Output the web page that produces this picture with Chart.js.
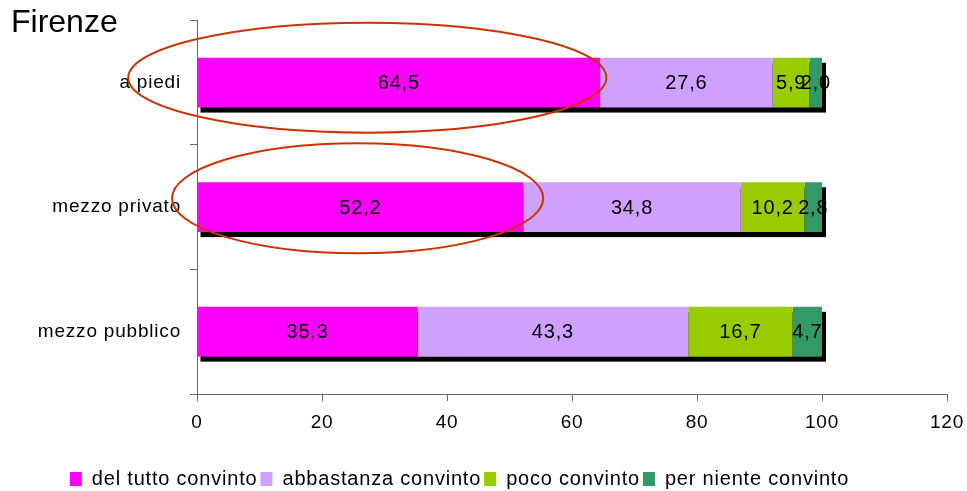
<!DOCTYPE html>
<html>
<head>
<meta charset="utf-8">
<script src="https://cdn.jsdelivr.net/npm/chart.js@4"></script>
<style>
  html, body { margin: 0; padding: 0; background: #fff; }
  #wrap { width: 967px; height: 491px; position: relative; }
</style>
</head>
<body>
<div id="wrap"><canvas id="chart"></canvas></div>
<script>
const categories = ['a piedi', 'mezzo privato', 'mezzo pubblico'];
const seriesNames = ['del tutto convinto', 'abbastanza convinto', 'poco convinto', 'per niente convinto'];
const delTutto = [64.5, 52.2, 35.3];
const abbastanza = [27.6, 34.8, 43.3];
const poco = [5.9, 10.2, 16.7];
const perNiente = [2.0, 2.8, 4.7];
const xTicks = [0, 20, 40, 60, 80, 100, 120];
const colors = ['#ff00ff', '#d0a0ff', '#99cc00', '#339966'];

const FONT = '"Liberation Sans", Arial, sans-serif';

// testo un po' spaziato come nell'originale
const spacingPlugin = {
  id: 'spacing',
  beforeUpdate(chart) { chart.ctx.letterSpacing = '0.8px'; },
  beforeDraw(chart) { chart.ctx.letterSpacing = '0.8px'; },
  // legenda spostata un po' a sinistra
  afterLayout(chart) { chart.legend.right -= 48; }
};

// ombra nera sotto le barre
const shadowPlugin = {
  id: 'shadow',
  beforeDatasetsDraw(chart) {
    const ctx = chart.ctx;
    const first = chart.getDatasetMeta(0).data;
    const last = chart.getDatasetMeta(chart.data.datasets.length - 1).data;
    ctx.save();
    ctx.fillStyle = '#000';
    first.forEach((bar, i) => {
      const end = last[i];
      const h = bar.height;
      ctx.fillRect(bar.base + 3, bar.y - h / 2 + 5, end.x - bar.base + 1, h);
    });
    ctx.restore();
  }
};

// etichette dei valori
const labelPlugin = {
  id: 'valueLabels',
  afterDatasetsDraw(chart) {
    const ctx = chart.ctx;
    ctx.save();
    ctx.font = '20px ' + FONT;
    ctx.fillStyle = '#000';
    ctx.textAlign = 'center';
    ctx.textBaseline = 'middle';
    chart.data.datasets.forEach((ds, d) => {
      chart.getDatasetMeta(d).data.forEach((bar, i) => {
        const cx = (bar.base + bar.x) / 2;
        ctx.fillText(ds.data[i].toFixed(1).replace('.', ','), cx, bar.y + 1);
      });
    });
    ctx.restore();
  }
};

// titolo ed ellissi
const overlayPlugin = {
  id: 'overlay',
  afterDraw(chart) {
    const ctx = chart.ctx;
    const x = chart.scales.x;
    const y = chart.scales.y;
    ctx.save();
    ctx.letterSpacing = '0px';
    ctx.font = '32px ' + FONT;
    ctx.fillStyle = '#000';
    ctx.textAlign = 'left';
    ctx.textBaseline = 'alphabetic';
    ctx.fillText('Firenze', 11, 32);

    ctx.strokeStyle = '#cc3300';
    ctx.lineWidth = 2;
    const ellipses = [
      { idx: 0, from: -11, to: 65.5, dy: -5, ry: 55 },
      { idx: 1, from: -4, to: 55.4, dy: -9, ry: 55 }
    ];
    ellipses.forEach(e => {
      const x0 = x.getPixelForValue(e.from);
      const x1 = x.getPixelForValue(e.to);
      const cy = y.getPixelForValue(e.idx) + e.dy;
      ctx.beginPath();
      ctx.ellipse((x0 + x1) / 2, cy, (x1 - x0) / 2, e.ry, 0, 0, Math.PI * 2);
      ctx.stroke();
    });
    ctx.restore();
  }
};

const seriesData = [delTutto, abbastanza, poco, perNiente];

new Chart(document.getElementById('chart'), {
  type: 'bar',
  data: {
    labels: categories,
    datasets: seriesNames.map((name, i) => ({
      label: name,
      data: seriesData[i],
      backgroundColor: colors[i],
      borderWidth: 0,
      categoryPercentage: 0.4,
      barPercentage: 1
    }))
  },
  options: {
    indexAxis: 'y',
    responsive: true,
    maintainAspectRatio: false,
    animation: false,
    layout: { padding: { top: 20, right: 0, left: 0, bottom: -8 } },
    scales: {
      x: {
        stacked: true,
        min: 0,
        max: 120,
        afterBuildTicks: s => { s.ticks = xTicks.map(v => ({ value: v })); },
        afterFit: s => { s.height = 72; s.paddingRight = 20; s.paddingLeft = 0; },
        grid: { drawOnChartArea: false, color: '#666', tickLength: 7 },
        border: { color: '#666' },
        ticks: { color: '#000', font: { family: FONT, size: 19 }, padding: 10 }
      },
      y: {
        stacked: true,
        afterFit: s => { s.width = 197; },
        grid: { drawOnChartArea: false, color: '#666', tickLength: 7 },
        border: { color: '#666' },
        ticks: { color: '#000', font: { family: FONT, size: 19 }, padding: 9 }
      }
    },
    plugins: {
      legend: {
        position: 'bottom',
        labels: {
          boxWidth: 12,
          boxHeight: 14,
          padding: 3,
          color: '#000',
          font: { family: FONT, size: 20 }
        }
      },
      tooltip: { enabled: false }
    }
  },
  plugins: [spacingPlugin, shadowPlugin, labelPlugin, overlayPlugin]
});
</script>
</body>
</html>
